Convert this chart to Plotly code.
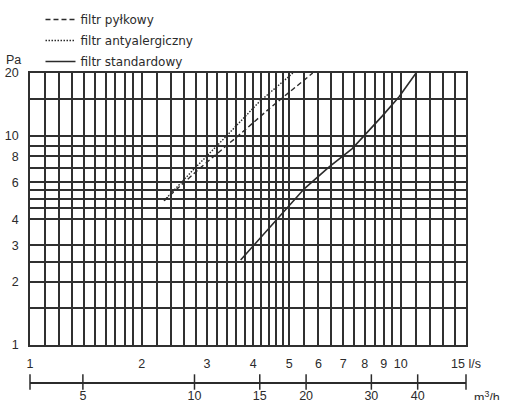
import math
import plotly.graph_objects as go

# ---- data ----
ls_tickvals = [1, 2, 3, 4, 5, 6, 7, 8, 9, 10, 15]
ls_ticktext = ["1", "2", "3", "4", "5", "6", "7", "8", "9", "10", "15 l/s"]
ls_minor_grid = [1.1, 1.2, 1.3, 1.4, 1.5, 1.6, 1.7, 1.8, 1.9,
                 2.2, 2.4, 2.6, 2.8, 3.2, 3.4, 3.6, 3.8,
                 4.2, 4.4, 4.6, 4.8, 5.5, 6.5, 7.5, 8.5, 9.5,
                 11, 12, 13, 14]
pa_tickvals = [1, 2, 3, 4, 6, 8, 10, 20]
pa_minor_grid = [1.5, 2.5, 4.5, 5, 5.5, 7, 9, 15]
m3h_tickvals = [5, 10, 15, 20, 30, 40]
m3h_per_ls = 3.6
x_min, x_max = 1, 15
y_min, y_max = 1, 20

pylkowy_x = [2.3, 2.87, 3.64, 4.44, 5.79]
pylkowy_y = [4.9, 7.0, 10.0, 13.6, 20.0]
antyalergiczny_x = [2.3, 2.76, 3.39, 4.16, 5.12]
antyalergiczny_y = [4.9, 6.9, 10.0, 14.6, 20.0]
standard_x = [3.7, 5.5, 6.4, 7.4, 8.9, 9.9, 11.0]
standard_y = [2.55, 5.6, 7.1, 8.7, 12.4, 15.4, 20.0]

INK = "#2b2b2b"
GRID = "#303030"
NUM_FONT = dict(family="Liberation Sans, Arial, sans-serif", size=12.5, color=INK)
LEG_FONT = dict(family="DejaVu Sans, Verdana, sans-serif", size=12, color=INK)

fig = go.Figure()
fig.add_trace(go.Scatter(x=pylkowy_x, y=pylkowy_y, mode="lines", name="filtr pyłkowy",
                         legendgroup="a", line=dict(color=INK, width=1.4, dash="5px,3px")))
fig.add_trace(go.Scatter(x=antyalergiczny_x, y=antyalergiczny_y, mode="lines",
                         name="filtr antyalergiczny", legendgroup="b",
                         line=dict(color=INK, width=1.4, dash="1.5px,1.5px")))
fig.add_trace(go.Scatter(x=standard_x, y=standard_y, mode="lines", name="filtr standardowy",
                         legendgroup="c", line=dict(color=INK, width=1.6)))

# secondary m3/h scale tick marks (including both ends)
m3h_marks = [x_min * m3h_per_ls] + m3h_tickvals + [x_max * m3h_per_ls]
fig.add_trace(go.Scatter(x=m3h_marks, y=[0] * len(m3h_marks), xaxis="x2", yaxis="y3",
                         mode="markers", showlegend=False, hoverinfo="skip", cliponaxis=False,
                         marker=dict(symbol="line-ns", size=11,
                                     line=dict(color=INK, width=1.5))))

W, H = 505, 400
ml, mr, mt, mb = 29.5, 39.3, 73, 18
plot_w = W - ml - mr
plot_h = H - mt - mb
main_bottom = (55 - mb) / plot_h

fig.update_layout(
    width=W, height=H,
    margin=dict(l=ml, r=mr, t=mt, b=mb, pad=0, autoexpand=False),
    paper_bgcolor="white", plot_bgcolor="white",
    showlegend=True,
    legend=dict(x=(40 - ml) / plot_w, y=1 + (mt - 5) / plot_h,
                xanchor="left", yanchor="top", traceorder="grouped",
                tracegroupgap=2, font=LEG_FONT, bgcolor="rgba(0,0,0,0)",
                borderwidth=0, itemwidth=30),
    xaxis=dict(type="log", range=[math.log10(x_min), math.log10(x_max)],
               tickmode="array", tickvals=ls_tickvals, ticktext=ls_ticktext,
               showgrid=True, gridcolor=GRID, gridwidth=1.5,
               minor=dict(tickmode="array", tickvals=ls_minor_grid, showgrid=True,
                          gridcolor=GRID, gridwidth=1.5, ticks=""),
               showline=True, linecolor=GRID, linewidth=1.6, mirror=True,
               ticks="", ticklabelstandoff=6, tickfont=NUM_FONT, zeroline=False,
               anchor="y", automargin=False),
    yaxis=dict(type="log", range=[math.log10(y_min), math.log10(y_max)],
               domain=[main_bottom, 1],
               tickmode="array", tickvals=pa_tickvals,
               ticktext=[str(v) for v in pa_tickvals],
               showgrid=True, gridcolor=GRID, gridwidth=1.5,
               minor=dict(tickmode="array", tickvals=pa_minor_grid, showgrid=True,
                          gridcolor=GRID, gridwidth=1.5, ticks=""),
               showline=True, linecolor=GRID, linewidth=1.6, mirror=True,
               ticks="", ticklabelstandoff=7, tickfont=NUM_FONT, zeroline=False,
               automargin=False),
    xaxis2=dict(type="log",
                range=[math.log10(x_min * m3h_per_ls), math.log10(x_max * m3h_per_ls)],
                anchor="y3", tickmode="array", tickvals=m3h_tickvals,
                ticktext=[str(v) for v in m3h_tickvals],
                showgrid=False, showline=True, linecolor=INK, linewidth=1.5,
                ticks="", ticklabelstandoff=1, tickfont=NUM_FONT, zeroline=False,
                automargin=False),
    yaxis3=dict(domain=[0, 0.01], range=[0, 1], visible=False, fixedrange=True,
                automargin=False),
    annotations=[
        dict(text="Pa", xref="paper", yref="paper", x=0, y=1, xanchor="right",
             yanchor="middle", xshift=-7, yshift=13, showarrow=False, font=NUM_FONT),
        dict(text="m<sup>3</sup>/h", xref="paper", yref="paper", x=1, y=0,
             xanchor="left", yanchor="top", xshift=6, yshift=-5, showarrow=False,
             font=NUM_FONT),
    ],
)

fig.write_html("out.html", config={"displayModeBar": False},
               post_script="document.body.style.margin='0';document.body.style.overflow='hidden';")
